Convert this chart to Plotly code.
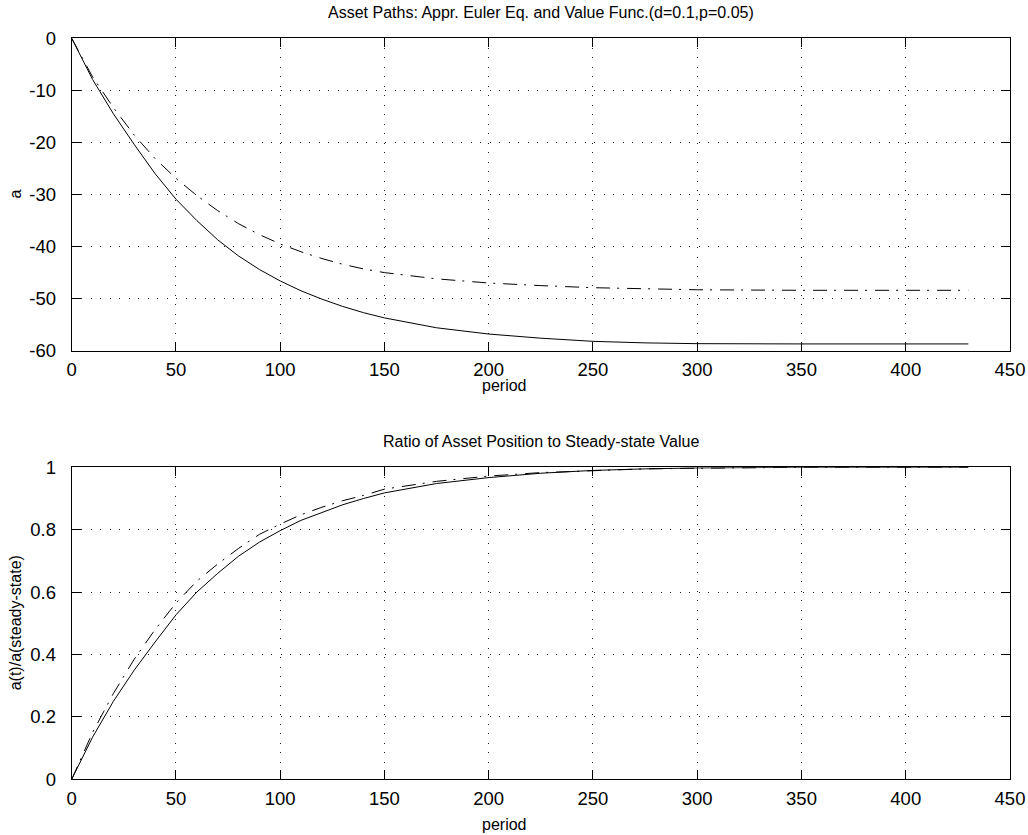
import plotly.graph_objects as go

# ---- data ----
period = [0, 10, 20, 30, 40, 50, 60, 70, 80, 90, 100, 110, 120, 130, 140, 150,
          175, 200, 225, 250, 275, 300, 350, 400, 430]

# Top panel: asset paths
a_euler = [0, -7.9, -14.5, -20.4, -26.0, -30.9, -35.0, -38.7, -41.8, -44.4, -46.6,
           -48.5, -50.1, -51.5, -52.7, -53.7, -55.6, -56.8, -57.6, -58.2, -58.5,
           -58.65, -58.7, -58.7, -58.7]
a_value = [0, -7.4, -13.3, -18.6, -23.1, -26.9, -30.2, -33.1, -35.6, -37.7, -39.5,
           -41.0, -42.3, -43.4, -44.3, -45.0, -46.2, -47.0, -47.5, -47.9, -48.1,
           -48.3, -48.4, -48.4, -48.4]

# Bottom panel: ratio to steady-state value
r_euler = [0, 0.135, 0.25, 0.35, 0.44, 0.527, 0.60, 0.66, 0.715, 0.76, 0.797,
           0.83, 0.855, 0.88, 0.90, 0.918, 0.948, 0.967, 0.981, 0.99, 0.995,
           0.998, 1.0, 1.0, 1.0]
r_value = [0, 0.15, 0.275, 0.385, 0.48, 0.565, 0.635, 0.69, 0.74, 0.785, 0.818,
           0.848, 0.872, 0.893, 0.91, 0.93, 0.955, 0.972, 0.983, 0.99, 0.995,
           0.997, 1.0, 1.0, 1.0]

# Tick labels
x_ticks = [0, 50, 100, 150, 200, 250, 300, 350, 400, 450]
x_ticklabels = ["0", "50", "100", "150", "200", "250", "300", "350", "400", "450"]
y1_ticks = [0, -10, -20, -30, -40, -50, -60]
y1_ticklabels = ["0", "-10", "-20", "-30", "-40", "-50", "-60"]
y2_ticks = [0, 0.2, 0.4, 0.6, 0.8, 1.0]
y2_ticklabels = ["0", "0.2", "0.4", "0.6", "0.8", "1"]

title_top = "Asset Paths: Appr. Euler Eq. and Value Func.(d=0.1,p=0.05)"
title_bot = "Ratio of Asset Position to Steady-state Value"
xlabel = "period"
ylabel_top = "a"
ylabel_bot = "a(t)/a(steady-state)"

W, H = 1028, 835
FONT = "Liberation Sans, Arial, sans-serif"
DASHDOT = "14px,7px,2px,8px"
GRIDDASH = "1px,8.5px"
TICKSIZE = 18.5
LABELSIZE = 16

fig = go.Figure()
fig.add_trace(go.Scatter(x=period, y=a_euler, mode="lines",
                         line=dict(color="black", width=1), xaxis="x", yaxis="y"))
fig.add_trace(go.Scatter(x=period, y=a_value, mode="lines",
                         line=dict(color="black", width=1, dash=DASHDOT), xaxis="x", yaxis="y"))
fig.add_trace(go.Scatter(x=period, y=r_euler, mode="lines",
                         line=dict(color="black", width=1), xaxis="x2", yaxis="y2"))
fig.add_trace(go.Scatter(x=period, y=r_value, mode="lines",
                         line=dict(color="black", width=1, dash=DASHDOT), xaxis="x2", yaxis="y2"))

px_l, px_r = 71.7, 1010.0
top_t, top_b = 38.3, 350.7
bot_t, bot_b = 467.3, 779.3

def xd():
    return [px_l / W, px_r / W]

def yd(t, b):
    return [1 - b / H, 1 - t / H]

axis_common = dict(
    showline=True, linecolor="black", linewidth=1, mirror="ticks",
    ticks="inside", ticklen=9, tickwidth=1, tickcolor="black",
    showgrid=True, gridcolor="#222", gridwidth=1, griddash=GRIDDASH,
    zeroline=False, tickfont=dict(family=FONT, size=TICKSIZE, color="black"),
    automargin=False, tickmode="array",
)

fig.update_layout(
    width=W, height=H,
    margin=dict(l=0, r=0, t=0, b=0),
    paper_bgcolor="white", plot_bgcolor="white",
    showlegend=False,
    font=dict(family=FONT, color="black"),
    xaxis=dict(domain=xd(), anchor="y", range=[0, 450], tickvals=x_ticks,
               ticktext=x_ticklabels, ticklabelstandoff=2, **axis_common),
    yaxis=dict(domain=yd(top_t, top_b), anchor="x", range=[-60, 0], tickvals=y1_ticks,
               ticktext=y1_ticklabels, ticklabelstandoff=11, **axis_common),
    xaxis2=dict(domain=xd(), anchor="y2", range=[0, 450], tickvals=x_ticks,
                ticktext=x_ticklabels, ticklabelstandoff=2, **axis_common),
    yaxis2=dict(domain=yd(bot_t, bot_b), anchor="x2", range=[0, 1], tickvals=y2_ticks,
                ticktext=y2_ticklabels, ticklabelstandoff=11, **axis_common),
)

cx = (px_l + px_r) / 2 / W
xlab_x = 504 / W
ann = [
    dict(text=title_top, x=cx, y=1 - 12 / H),
    dict(text=title_bot, x=cx, y=1 - 441 / H),
    dict(text=xlabel, x=xlab_x, y=1 - 385 / H),
    dict(text=xlabel, x=xlab_x, y=1 - 824 / H),
]
for a in ann:
    fig.add_annotation(text=a["text"], x=a["x"], y=a["y"], xref="paper", yref="paper",
                       xanchor="center", yanchor="middle", showarrow=False,
                       font=dict(family=FONT, size=LABELSIZE, color="black"))
fig.add_annotation(text=ylabel_top, x=15 / W, y=1 - (top_t + top_b) / 2 / H,
                   xref="paper", yref="paper", xanchor="center", yanchor="middle",
                   showarrow=False, textangle=-90,
                   font=dict(family=FONT, size=LABELSIZE, color="black"))
fig.add_annotation(text=ylabel_bot, x=15 / W, y=1 - (bot_t + bot_b) / 2 / H,
                   xref="paper", yref="paper", xanchor="center", yanchor="middle",
                   showarrow=False, textangle=-90,
                   font=dict(family=FONT, size=LABELSIZE, color="black"))

fig.write_html(
    "out.html",
    config={"displayModeBar": False},
    post_script="document.body.style.margin='0';document.body.style.overflow='hidden';",
)
